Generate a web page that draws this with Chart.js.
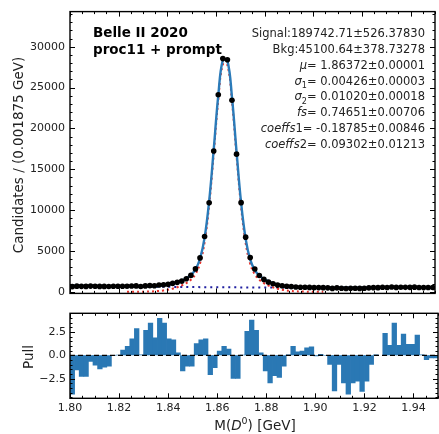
<!DOCTYPE html>
<html>
<head>
<meta charset="utf-8">
<script src="https://cdn.jsdelivr.net/npm/chart.js@4.4.0/dist/chart.umd.min.js"></script>
<style>
  html, body { margin: 0; padding: 0; background: #fff; overflow: hidden; }
  #wrap { position: relative; width: 439px; height: 434px; }
  #massChart { position: absolute; left: 0; top: 0; }
  #pullChart { position: absolute; left: 0; top: 300px; }
</style>
</head>
<body>
<div id="wrap">
  <canvas id="massChart" width="439" height="305"></canvas>
  <canvas id="pullChart" width="439" height="134"></canvas>
</div>
<script>
// histogram binning: 80 bins of 0.001875 GeV from 1.80 to 1.95
const xMin = 1.80;
const xMax = 1.95;
const binWidth = 0.001875;

// tick labels
const xTicks = [1.80, 1.82, 1.84, 1.86, 1.88, 1.90, 1.92, 1.94];
const massYTicks = [0, 5000, 10000, 15000, 20000, 25000, 30000];
const pullYTicks = [-2.5, 0, 2.5];

// candidates per bin (data points)
const counts = [
  627, 690, 663, 655, 691, 674, 655, 654, 650, 673,
  668, 676, 682, 697, 721, 649, 718, 749, 729, 821,
  867, 908, 1029, 1151, 1298, 1601, 2001, 2798, 4148, 6768,
  10886, 17237, 24124, 28543, 28413, 23453, 16851, 10912, 6689, 4182,
  2793, 2000, 1512, 1176, 989, 818, 731, 676, 635, 579,
  555, 544, 537, 507, 508, 502, 479, 415, 478, 433,
  406, 433, 437, 414, 438, 480, 505, 504, 559, 531,
  586, 534, 562, 539, 541, 566, 520, 509, 515, 518
];

// fitted signal component per bin (red dotted), null where negligible
const signalFit = [
  null, null, null, null, null, null, null, null, null, null,
  null, null, 2, 3, 6, 11, 20, 36, 61, 102,
  163, 253, 380, 550, 775, 1068, 1478, 2157, 3472, 6057,
  10547, 16859, 23494, 27827, 27750, 23298, 16641, 10372, 5948, 3414,
  2128, 1463, 1058, 764, 544, 375, 251, 162, 101, 61,
  36, 20, 11, 6, 3, 2, null, null, null, null,
  null, null, null, null, null, null, null, null, null, null,
  null, null, null, null, null, null, null, null, null, null
];

// fitted background component per bin (blue dotted)
const bkgFit = [
  741, 733, 725, 717, 710, 703, 695, 688, 681, 674,
  667, 661, 654, 648, 641, 635, 629, 623, 618, 612,
  607, 602, 596, 591, 586, 582, 577, 573, 568, 564,
  560, 556, 552, 548, 545, 541, 538, 535, 532, 529,
  526, 524, 521, 519, 517, 515, 513, 511, 509, 508,
  507, 505, 504, 503, 502, 502, 501, 501, 500, 500,
  500, 500, 500, 501, 501, 502, 503, 504, 505, 506,
  507, 509, 510, 512, 514, 516, 518, 520, 522, 525
];

// pull per bin (lower panel)
const pulls = [
  -4.2, -1.6, -2.3, -2.3, -0.7, -1.1, -1.5, -1.3, -1.2, -0.05,
  0.05, 0.6, 1.0, 1.8, 2.9, 0.1, 2.7, 3.5, 1.9, 4.0,
  3.5, 1.8, 1.7, 0.3, -1.7, -1.2, -1.2, 1.3, 1.7, 1.8,
  -2.1, -1.35, 0.5, 1.0, 0.7, -2.5, -2.5, 0.05, 2.6, 3.8,
  2.7, 0.3, -1.7, -3.0, -2.2, -2.4, -1.2, 0.1, 1.0, 0.4,
  0.5, 0.85, 0.95, -0.1, 0.15, -0.05, -1.0, -3.85, -1.0, -3.0,
  -4.2, -3.0, -2.8, -3.9, -2.8, -1.0, 0.1, 0.0, 2.4, 1.1,
  3.5, 1.1, 2.3, 1.2, 1.2, 2.2, 0.1, -0.5, -0.3, -0.3
];

const statLines = [
  [{t: 'Signal:189742.71±526.37830'}],
  [{t: 'Bkg:45100.64±378.73278'}],
  [{t: 'μ', i: true}, {t: '= 1.86372±0.00001'}],
  [{t: 'σ', i: true}, {t: '1', sub: true}, {t: '= 0.00426±0.00003'}],
  [{t: 'σ', i: true}, {t: '2', sub: true}, {t: '= 0.01020±0.00018'}],
  [{t: 'fs', i: true}, {t: '= 0.74651±0.00706'}],
  [{t: 'coeffs', i: true}, {t: '1= -0.18785±0.00846'}],
  [{t: 'coeffs', i: true}, {t: '2= 0.09302±0.01213'}]
];

const FONT = '"DejaVu Sans", sans-serif';
const TXT = '#222';

const binCenters = counts.map((_, i) => xMin + (i + 0.5) * binWidth);
const fitTotal = signalFit.map((s, i) => (s || 0) + bkgFit[i]);
const xy = arr => arr.map((v, i) => ({x: binCenters[i], y: v}));
const fixedTicks = values => scale => { scale.ticks = values.map(v => ({value: v})); };

// draw a line of mixed text (italic / sub / sup runs)
function drawRuns(ctx, runs, x, y, size, align) {
  const fontFor = r => `${r.i ? 'italic ' : ''}${r.b ? 'bold ' : ''}${(r.sub || r.sup) ? size * 0.7 : size}px ${FONT}`;
  let w = 0;
  runs.forEach(r => { ctx.font = fontFor(r); w += ctx.measureText(r.t).width; });
  let cx = align === 'right' ? x - w : align === 'center' ? x - w / 2 : x;
  ctx.textAlign = 'left';
  ctx.textBaseline = 'alphabetic';
  runs.forEach(r => {
    ctx.font = fontFor(r);
    const dy = r.sub ? size * 0.3 : r.sup ? -size * 0.45 : 0;
    ctx.fillText(r.t, cx, y + dy);
    cx += ctx.measureText(r.t).width;
  });
}

// matplotlib-like frame with inward ticks on all four sides
function framePlugin(xStepMajor, xStepMinor, yStepMajor, yStepMinor) {
  return {
    id: 'frame',
    afterDraw(chart) {
      const {ctx, chartArea: a, scales: {x, y}} = chart;
      ctx.save();
      ctx.strokeStyle = '#000';
      ctx.lineWidth = 1;
      const ticks = (step, len, isX) => {
        const sc = isX ? x : y;
        const start = Math.ceil((sc.min - 1e-9) / step) * step;
        for (let v = start; v <= sc.max + 1e-9; v += step) {
          const p = Math.round(sc.getPixelForValue(v)) + 0.5;
          ctx.beginPath();
          if (isX) {
            ctx.moveTo(p, a.bottom); ctx.lineTo(p, a.bottom - len);
            ctx.moveTo(p, a.top); ctx.lineTo(p, a.top + len);
          } else {
            ctx.moveTo(a.left, p); ctx.lineTo(a.left + len, p);
            ctx.moveTo(a.right, p); ctx.lineTo(a.right - len, p);
          }
          ctx.stroke();
        }
      };
      ticks(xStepMinor, 2.5, true);
      ticks(xStepMajor, 5, true);
      ticks(yStepMinor, 2.5, false);
      ticks(yStepMajor, 5, false);
      ctx.lineWidth = 1.4;
      ctx.strokeRect(a.left, a.top, a.right - a.left, a.bottom - a.top);
      ctx.restore();
    }
  };
}

const massLabels = {
  id: 'massLabels',
  afterDatasetsDraw(chart) {
    const {ctx, scales: {x, y}} = chart;
    // horizontal bin-width bars on the data points
    ctx.save();
    ctx.strokeStyle = '#000';
    ctx.lineWidth = 1;
    counts.forEach((v, i) => {
      const py = y.getPixelForValue(v);
      ctx.beginPath();
      ctx.moveTo(x.getPixelForValue(binCenters[i] - binWidth / 2), py);
      ctx.lineTo(x.getPixelForValue(binCenters[i] + binWidth / 2), py);
      ctx.stroke();
    });
    ctx.restore();
  },
  afterDraw(chart) {
    const ctx = chart.ctx;
    ctx.save();
    ctx.fillStyle = '#000';
    drawRuns(ctx, [{t: 'Belle II 2020', b: true}], 93, 37, 13.5, 'left');
    drawRuns(ctx, [{t: 'proc11 + prompt', b: true}], 93, 54, 13.5, 'left');
    ctx.fillStyle = TXT;
    statLines.forEach((runs, k) => drawRuns(ctx, runs, 425, 37 + k * 15.85, 11.5, 'right'));
    ctx.translate(23, 155);
    ctx.rotate(-Math.PI / 2);
    drawRuns(ctx, [{t: 'Candidates / (0.001875 GeV)'}], 0, 0, 13.5, 'center');
    ctx.restore();
  }
};

const pullLabels = {
  id: 'pullLabels',
  afterDatasetsDraw(chart) {
    const {ctx, chartArea: a, scales: {y}} = chart;
    const py = y.getPixelForValue(0);
    ctx.save();
    ctx.strokeStyle = '#000';
    ctx.lineWidth = 1.4;
    ctx.setLineDash([5, 3]);
    ctx.beginPath();
    ctx.moveTo(a.left, py);
    ctx.lineTo(a.right, py);
    ctx.stroke();
    ctx.restore();
  },
  afterDraw(chart) {
    const ctx = chart.ctx;
    ctx.save();
    ctx.fillStyle = TXT;
    drawRuns(ctx, [{t: 'M('}, {t: 'D', i: true}, {t: '0', sup: true}, {t: ') [GeV]'}], 255, 130, 13.5, 'center');
    ctx.translate(33, 57);
    ctx.rotate(-Math.PI / 2);
    drawRuns(ctx, [{t: 'Pull'}], 0, 0, 13.5, 'center');
    ctx.restore();
  }
};

const tickFont = {family: FONT, size: 11};

new Chart(document.getElementById('massChart'), {
  type: 'line',
  data: {
    datasets: [
      {
        type: 'scatter',
        label: 'Data',
        data: xy(counts),
        pointRadius: 2.8,
        pointBackgroundColor: '#000',
        pointBorderWidth: 0,
        showLine: false,
        order: 1
      },
      {
        label: 'Fit',
        data: xy(fitTotal),
        borderColor: '#2b7bb9',
        borderWidth: 2.4,
        pointRadius: 0,
        tension: 0.4,
        order: 2
      },
      {
        label: 'Signal',
        data: xy(signalFit),
        borderColor: '#e8302a',
        borderWidth: 2,
        borderDash: [2, 3],
        pointRadius: 0,
        tension: 0.4,
        spanGaps: false,
        order: 3
      },
      {
        label: 'Background',
        data: xy(bkgFit),
        borderColor: '#1f1fa0',
        borderWidth: 2,
        borderDash: [2, 4],
        pointRadius: 0,
        order: 4
      }
    ]
  },
  options: {
    responsive: false,
    animation: false,
    events: [],
    layout: {padding: {top: 8, right: 1, bottom: 5.7, left: 0}},
    plugins: {legend: {display: false}, tooltip: {enabled: false}},
    scales: {
      x: {
        type: 'linear', min: xMin, max: xMax,
        ticks: {display: false},
        grid: {display: false, drawTicks: false},
        border: {display: false},
        afterFit: s => { s.height = 0; }
      },
      y: {
        min: -200, max: 34300,
        afterBuildTicks: fixedTicks(massYTicks),
        ticks: {padding: 5, color: TXT, font: tickFont, callback: v => String(v)},
        grid: {display: false, drawTicks: false},
        border: {display: false},
        afterFit: s => { s.width = 70; }
      }
    }
  },
  plugins: [framePlugin(0.02, 0.005, 5000, 1000), massLabels]
});

new Chart(document.getElementById('pullChart'), {
  type: 'bar',
  data: {
    datasets: [{
      label: 'Pull',
      data: xy(pulls),
      backgroundColor: '#2a78b4',
      borderWidth: 0,
      barPercentage: 1.15,
      categoryPercentage: 1,
      grouped: false
    }]
  },
  options: {
    responsive: false,
    animation: false,
    events: [],
    layout: {padding: {top: 13.3, right: 1, bottom: 0, left: 0}},
    plugins: {legend: {display: false}, tooltip: {enabled: false}},
    scales: {
      x: {
        type: 'linear', min: xMin, max: xMax, offset: false,
        afterBuildTicks: fixedTicks(xTicks),
        ticks: {
          maxRotation: 0, autoSkip: false,
          padding: 3, color: TXT, font: tickFont,
          callback: v => v.toFixed(2)
        },
        grid: {display: false, drawTicks: false},
        border: {display: false},
        afterFit: s => { s.height = 35.7; }
      },
      y: {
        min: -4.6, max: 4.5,
        afterBuildTicks: fixedTicks(pullYTicks),
        ticks: {
          padding: 4, color: TXT, font: tickFont,
          callback: v => (v < -1e-9 ? '\u2212' : '') + Math.abs(v).toFixed(1)
        },
        grid: {display: false, drawTicks: false},
        border: {display: false},
        afterFit: s => { s.width = 70; }
      }
    }
  },
  plugins: [framePlugin(0.02, 0.005, 2.5, 0.5), pullLabels]
});
</script>
</body>
</html>
